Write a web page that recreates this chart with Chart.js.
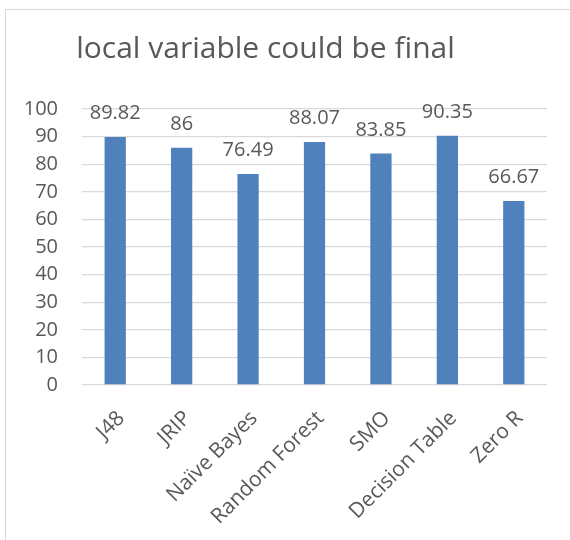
<!DOCTYPE html>
<html><head><meta charset="utf-8">
<script src="https://cdn.jsdelivr.net/npm/chart.js@4/dist/chart.umd.min.js"></script>
<style>
html,body{margin:0;padding:0;background:#fff;}
#wrap{position:relative;width:570px;height:540px;overflow:hidden;}
#frame{position:absolute;left:5px;top:9px;width:700px;height:700px;border-top:1px solid #d9d9d9;border-left:1px solid #d9d9d9;pointer-events:none}
canvas{position:absolute;left:0;top:0}
</style></head><body>
<div id="wrap"><canvas id="c" width="570" height="540"></canvas><div id="frame"></div></div>
<script>
const chartTitle = 'local variable could be final';
const categories = ['J48', 'JRIP', 'Naïve Bayes', 'Random Forest', 'SMO', 'Decision Table', 'Zero R'];
const values = [89.82, 86, 76.49, 88.07, 83.85, 90.35, 66.67];
const valueLabels = ['89.82', '86', '76.49', '88.07', '83.85', '90.35', '66.67'];
const yMin = 0, yMax = 100, yStep = 10;

const FONT = "'Open Sans', 'DejaVu Sans', sans-serif";
const TEXT = '#595959';

const dataLabels = {
  id: 'dataLabels',
  afterDatasetsDraw(chart) {
    const ctx = chart.ctx;
    const meta = chart.getDatasetMeta(0);
    ctx.save();
    ctx.font = '20px ' + FONT;
    ctx.fillStyle = TEXT;
    ctx.textAlign = 'center';
    ctx.textBaseline = 'alphabetic';
    meta.data.forEach((bar, i) => {
      ctx.fillText(valueLabels[i], bar.x, bar.y - 18);
    });
    ctx.restore();
  }
};
const titleShift = {
  id: 'titleShift',
  afterLayout(chart) {
    const t = chart.titleBlock;
    if (t) { t.left = 5; t.right = 526; }
  }
};

new Chart(document.getElementById('c'), {
  type: 'bar',
  data: {
    labels: categories,
    datasets: [{
      data: values,
      backgroundColor: '#4f81bd',
      borderWidth: 0,
      barPercentage: 0.32,
      categoryPercentage: 1.0
    }]
  },
  plugins: [dataLabels, titleShift],
  options: {
    responsive: false,
    animation: false,
    devicePixelRatio: 1,
    layout: { padding: { top: 0, left: 0, right: 23, bottom: 0 } },
    plugins: {
      legend: { display: false },
      tooltip: { enabled: false },
      title: {
        display: true,
        text: chartTitle,
        color: TEXT,
        font: { family: FONT, size: 30, weight: 'normal', lineHeight: 1.2 },
        padding: { top: 31, bottom: 42 }
      }
    },
    scales: {
      x: {
        grid: { display: false },
        border: { display: false },
        ticks: {
          color: TEXT,
          font: { family: FONT, size: 21 },
          minRotation: 45,
          maxRotation: 45,
          padding: 13,
          labelOffset: 6,
          autoSkip: false
        },
        afterFit(scale) { scale.height = 155; scale.paddingLeft = 0; scale.paddingRight = 0; }
      },
      y: {
        min: yMin,
        max: yMax,
        grid: { color: '#d9d9d9', lineWidth: 1.3, drawTicks: false },
        border: { display: false },
        ticks: {
          stepSize: yStep,
          color: TEXT,
          font: { family: FONT, size: 20 },
          padding: 24
        },
        afterFit(scale) { scale.width = 82; scale.paddingTop = 0; scale.paddingBottom = 0; }
      }
    }
  }
});
</script>
</body></html>
